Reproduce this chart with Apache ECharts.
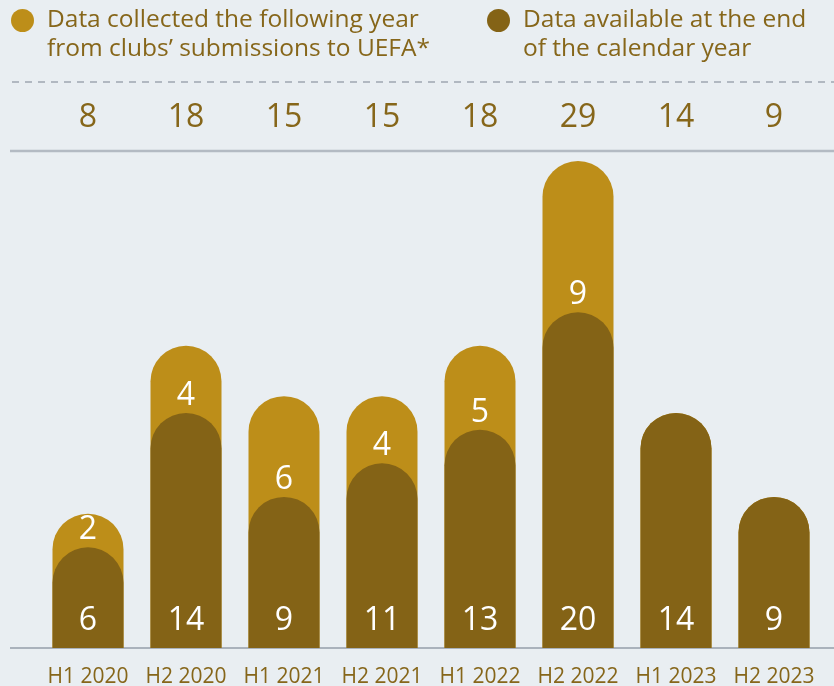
<!DOCTYPE html>
<html>
<head>
<meta charset="utf-8">
<script src="https://cdn.jsdelivr.net/npm/echarts@6/dist/echarts.min.js"></script>
<style>
html,body{margin:0;padding:0;background:#e9eef2;}
#c{width:834px;height:686px;}
</style>
</head>
<body>
<div id="c"></div>
<script>
const categories = ['H1 2020','H2 2020','H1 2021','H2 2021','H1 2022','H2 2022','H1 2023','H2 2023'];
const totals = [8, 18, 15, 15, 18, 29, 14, 9];
const availableEndOfYear = [6, 14, 9, 11, 13, 20, 14, 9];
const collectedFollowingYear = [2, 4, 6, 4, 5, 9, 0, 0];
const seriesNames = [
  'Data collected the following year\nfrom clubs’ submissions to UEFA*',
  'Data available at the end\nof the calendar year'
];

const GOLD = '#bd8e19';
const DARK = '#846316';
const TEXT = '#86661a';
const FONT = '"Open Sans", "Noto Sans", sans-serif';

const chart = echarts.init(document.getElementById('c'), null, {renderer: 'canvas'});
const legendCommon = {
  orient: 'horizontal',
  icon: 'circle',
  itemWidth: 23,
  itemHeight: 23,
  top: -28,
  padding: 5,
  selectedMode: false,
  formatter: name => '\n' + name,
  textStyle: {
    color: TEXT, fontFamily: FONT, fontSize: 24.5, lineHeight: 29,
    padding: [0, 0, 0, 8]
  }
};
chart.setOption({
  backgroundColor: '#e9eef2',
  animation: false,
  legend: [
    Object.assign({}, legendCommon, {left: 6, data: [seriesNames[0]]}),
    Object.assign({}, legendCommon, {left: 482, data: [seriesNames[1]]})
  ],
  grid: {left: 39, right: 11, top: 151, bottom: 38, containLabel: false, outerBoundsMode: 'none'},
  xAxis: [
    {
      type: 'category', data: categories, position: 'bottom',
      axisLine: {show: false}, axisTick: {show: false},
      axisLabel: {interval: 0, color: TEXT, fontFamily: FONT, fontSize: 21, margin: 19}
    },
    {
      type: 'category', data: totals.map(String), position: 'top',
      axisLine: {show: false}, axisTick: {show: false},
      axisLabel: {interval: 0, color: TEXT, fontFamily: FONT, fontSize: 32, margin: 17}
    }
  ],
  yAxis: {type: 'value', min: 0, max: 29.6, show: false, splitLine: {show: false}},
  graphic: [
    {type: 'line', shape: {x1: 12, y1: 82, x2: 834, y2: 82}, style: {stroke: '#9ea7b1', lineWidth: 1.5, lineDash: [7, 6]}, z: 1},
    {type: 'line', shape: {x1: 10, y1: 151, x2: 834, y2: 151}, style: {stroke: '#b3bac3', lineWidth: 2.5}, z: 1},
    {type: 'line', shape: {x1: 10, y1: 648, x2: 834, y2: 648}, style: {stroke: '#aab2bc', lineWidth: 2}, z: 1}
  ],
  series: [
    {
      name: seriesNames[0], type: 'bar', data: totals, barWidth: 71, barGap: '-100%',
      itemStyle: {color: GOLD, borderRadius: [35.5, 35.5, 0, 0]},
      z: 2
    },
    {
      name: seriesNames[1], type: 'bar', data: availableEndOfYear, barWidth: 71, barGap: '-100%',
      itemStyle: {color: DARK, borderRadius: [35.5, 35.5, 0, 0]},
      label: {show: true, position: 'insideBottom', distance: 11, color: '#ffffff', fontFamily: FONT, fontSize: 32},
      z: 3
    },
    {
      name: 'labels', type: 'bar', data: availableEndOfYear, barWidth: 71, barGap: '-100%',
      itemStyle: {color: 'rgba(0,0,0,0)'},
      label: {
        show: true, position: 'top', distance: 1, color: '#ffffff', fontFamily: FONT, fontSize: 32,
        formatter: p => collectedFollowingYear[p.dataIndex] > 0 ? String(collectedFollowingYear[p.dataIndex]) : ''
      },
      z: 4
    }
  ]
});
</script>
</body>
</html>
